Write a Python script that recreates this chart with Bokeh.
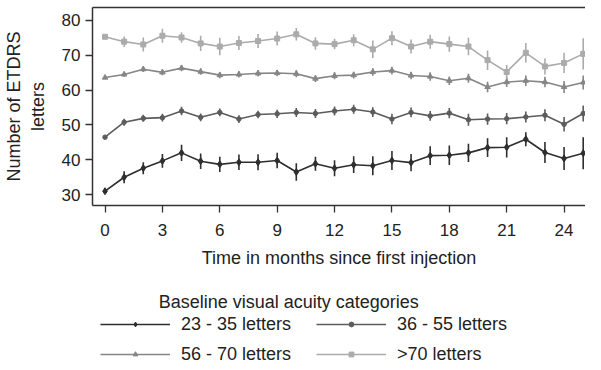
from bokeh.plotting import figure
from bokeh.layouts import column
from bokeh.models import Range1d, LinearAxis, FixedTicker, Legend, LegendItem, Label
from bokeh.embed import file_html
from bokeh.resources import INLINE

months = list(range(26))
x_ticks = [0, 3, 6, 9, 12, 15, 18, 21, 24]
y_ticks = [30, 40, 50, 60, 70, 80]

labels = ["23 - 35 letters", "36 - 55 letters", "56 - 70 letters", ">70 letters"]

va_23_35 = [31.0, 35.0, 37.6, 39.7, 42.0, 39.6, 38.7, 39.3, 39.3, 39.8, 36.5, 38.9, 37.6,
            38.6, 38.3, 39.8, 39.2, 41.2, 41.3, 42.0, 43.5, 43.6, 45.9, 42.1, 40.4, 41.9]
ci_23_35 = [0.3, 1.7, 1.7, 2.0, 2.3, 2.2, 2.2, 2.2, 2.3, 2.2, 2.5, 2.0, 2.3,
            2.4, 2.7, 2.7, 2.5, 2.7, 2.8, 2.6, 2.7, 2.9, 2.0, 3.0, 3.3, 4.6]

va_36_55 = [46.5, 50.8, 51.9, 52.1, 54.0, 52.2, 53.6, 51.7, 53.0, 53.2, 53.6, 53.3, 54.0,
            54.5, 53.7, 51.7, 53.6, 52.6, 53.4, 51.5, 51.7, 51.8, 52.3, 52.8, 50.2, 53.3]
ci_36_55 = [0.3, 1.0, 1.0, 1.1, 1.2, 1.1, 1.1, 1.1, 1.1, 1.2, 1.3, 1.3, 1.3,
            1.3, 1.4, 1.5, 1.4, 1.4, 1.5, 1.7, 1.6, 1.6, 1.6, 1.7, 2.1, 2.3]

va_56_70 = [63.6, 64.5, 66.0, 65.1, 66.3, 65.3, 64.3, 64.5, 64.8, 64.9, 64.7, 63.3, 64.1,
            64.3, 65.2, 65.6, 64.2, 63.9, 62.7, 63.4, 60.9, 62.3, 62.7, 62.3, 60.9, 62.2]
ci_56_70 = [0.3, 0.7, 0.8, 0.8, 0.9, 0.9, 0.9, 0.9, 0.9, 0.9, 1.0, 1.0, 1.0,
            1.0, 1.1, 1.1, 1.1, 1.2, 1.2, 1.3, 1.5, 1.4, 1.5, 1.5, 1.7, 2.0]

va_gt70 = [75.3, 73.9, 73.1, 75.6, 75.1, 73.4, 72.5, 73.5, 74.1, 74.8, 76.0, 73.4, 73.2,
           74.3, 71.7, 74.9, 72.5, 73.9, 73.2, 72.5, 68.6, 65.2, 70.7, 66.8, 67.8, 70.4]
ci_gt70 = [0.3, 1.5, 2.0, 2.0, 1.5, 2.2, 2.5, 2.0, 2.0, 2.0, 1.8, 1.8, 1.5,
           1.7, 2.5, 2.0, 2.0, 2.0, 2.2, 2.5, 2.8, 2.0, 2.8, 2.3, 2.9, 4.5]

legend_title = "Baseline visual acuity categories"

series_vals = [va_23_35, va_36_55, va_56_70, va_gt70]
series_ci = [ci_23_35, ci_36_55, ci_56_70, ci_gt70]
colors = ["#2e2e2e", "#5c5c5c", "#868686", "#ababab"]
markers = ["diamond", "circle", "triangle", "square"]
msizes = [7, 4.5, 5.5, 5]

FONT = "Liberation Sans"
TXT = "#222222"
AX = "#333333"

# ---- main plot ----
p = figure(width=585, height=278, output_backend="svg", toolbar_location=None,
           x_range=Range1d(-0.655, 25.12), y_range=Range1d(26.9, 83.7),
           min_border_left=85, min_border_right=0, min_border_top=7, min_border_bottom=73,
           outline_line_color=None, background_fill_color="white")
p.grid.visible = False

for ax in (p.xaxis[0], p.yaxis[0]):
    ax.axis_line_color = AX
    ax.axis_line_width = 1.5
    ax.major_tick_line_color = AX
    ax.major_tick_line_width = 1.3
    ax.major_tick_in = 0
    ax.major_tick_out = 7
    ax.minor_tick_line_color = None
    ax.major_label_text_font = FONT
    ax.major_label_text_font_size = "17px"
    ax.major_label_text_color = TXT
    ax.axis_label_text_font = FONT
    ax.axis_label_text_font_size = "18px"
    ax.axis_label_text_font_style = "normal"
    ax.axis_label_text_color = TXT

p.xaxis.ticker = FixedTicker(ticks=x_ticks)
p.yaxis.ticker = FixedTicker(ticks=y_ticks)
p.xaxis.major_label_standoff = 11
p.xaxis.axis_label = "Time in months since first injection"
p.xaxis.axis_label_standoff = 9
p.yaxis.major_label_standoff = 5
p.yaxis.axis_label = "Number of ETDRS\nletters"
p.yaxis.axis_label_standoff = 11
p.yaxis.major_label_orientation = "horizontal"

top = LinearAxis(ticker=FixedTicker(ticks=[]), major_tick_in=0, major_tick_out=0,
                 minor_tick_line_color=None, major_tick_line_color=None,
                 major_label_standoff=0, axis_line_color=AX, axis_line_width=1.5)
p.add_layout(top, "above")

# ---- legend panel (frame aligned with the plot frame: 500 px wide) ----
q = figure(width=585, height=84, output_backend="svg", toolbar_location=None,
           x_range=Range1d(0, 500), y_range=Range1d(0, 84),
           x_axis_type=None, y_axis_type=None,
           min_border_left=0, min_border_right=0, min_border_top=0, min_border_bottom=0,
           outline_line_color=None, background_fill_color="white")
q.grid.visible = False
q.extra_x_ranges = {"off": Range1d(1000, 1001)}

items = []
for vals, ci, col, mk, ms, lab in zip(series_vals, series_ci, colors, markers, msizes, labels):
    lo = [v - c for v, c in zip(vals, ci)]
    hi = [v + c for v, c in zip(vals, ci)]
    p.segment(x0=months, y0=lo, x1=months, y1=hi, line_color=col, line_width=1.6)
    p.line(months, vals, line_color=col, line_width=1.6)
    p.scatter(months, vals, marker=mk, size=ms, fill_color=col, line_color=col)
    # same series in the legend panel (mapped off-screen) to feed the legend
    lr = q.line(months, vals, line_color=col, line_width=1.6, x_range_name="off")
    sr = q.scatter(months, vals, marker=mk, size=ms, fill_color=col, line_color=col,
                   x_range_name="off")
    items.append(LegendItem(label=lab, renderers=[lr, sr]))

q.add_layout(Label(x=199, y=60.5, text=legend_title, text_font=FONT, text_font_size="18px",
                   text_color=TXT, text_align="center", text_baseline="middle"))

for row, vy in ((items[0:2], 27.5), (items[2:4], -2.5)):
    lg = Legend(items=row, orientation="horizontal", location=(8, vy),
                glyph_width=70, glyph_height=12, label_height=20, label_standoff=11,
                label_width=126, spacing=9, padding=0, margin=0,
                border_line_color=None, background_fill_alpha=0,
                label_text_font=FONT, label_text_font_size="18px",
                label_text_color=TXT)
    q.add_layout(lg, "center")

layout = column(p, q, spacing=0)
open("out.html", "w").write(file_html(layout, INLINE))
